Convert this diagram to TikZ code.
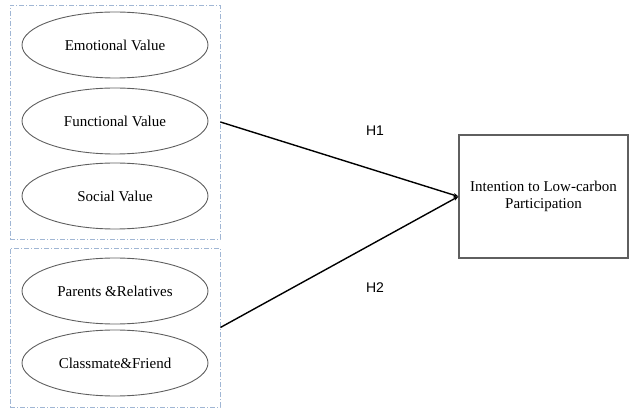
\documentclass[tikz,border=0pt]{standalone}
\usepackage{fontspec}
\setmainfont{Liberation Serif}
\newfontfamily\hypfont{Liberation Sans}
\usetikzlibrary{arrows.meta,shapes.geometric}

\definecolor{groupblue}{RGB}{160,182,212}
\definecolor{shapegray}{RGB}{95,95,95}

\tikzset{
	construct/.style={ellipse,draw=shapegray,line width=0.9pt,minimum width=186pt,minimum height=66pt,inner sep=0pt,font=\fontsize{15}{18}\selectfont},
	group/.style={draw=groupblue,line width=0.8pt,dash pattern=on 5pt off 2pt on 1pt off 2pt,minimum width=210pt,inner sep=0pt},
	outcome/.style={draw=shapegray,line width=1.1pt,minimum width=169pt,minimum height=123pt,align=center,inner sep=1pt,font=\fontsize{15}{17}\selectfont},
	path/.style={line width=1.4pt,-{Stealth[length=5pt,width=4pt]}},
	hyp/.style={font=\hypfont\fontsize{14}{16}\selectfont}
}

\begin{document}
\begin{tikzpicture}[x=1pt,y=-1pt]
		\useasboundingbox (0,0) rectangle (634,411);
		% two groups of antecedents
		\node[group,minimum height=234pt] (values) at (115,122) {};
		\node[group,minimum height=159pt] (social) at (115,327.5) {};
		\foreach \n/\y/\t in
		{
		emo/45/{Emotional Value},
		fun/121/{Functional Value},
		soc/196/{Social Value},
		par/291/{Parents \&Relatives},
		cla/363/{Classmate\&Friend}
		}
		\node[construct] (\n) at (115,\y) {\t};
		% outcome
		\node[outcome] (ilp) at (543.5,196.5) {Intention to Low-carbon\\Participation};
		\draw[path] (values.east) -- (ilp.west);
		\draw[path] (social.east) -- (ilp.west);
		\node[hyp] (h1) at (375,131) {H1};
		\node[hyp] (h2) at (375,288) {H2};
	\end{tikzpicture}
\end{document}
